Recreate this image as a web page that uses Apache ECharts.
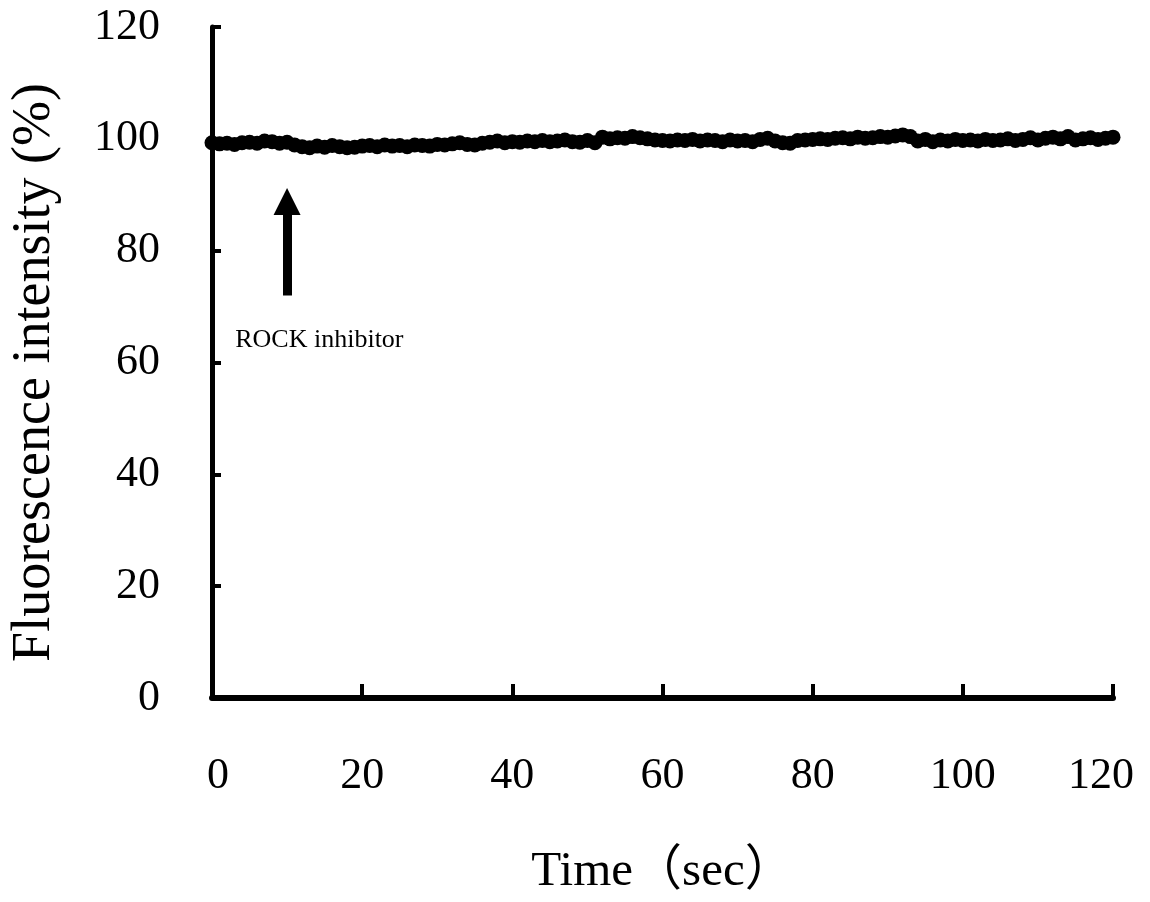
<!DOCTYPE html>
<html>
<head>
<meta charset="utf-8">
<script src="https://cdn.jsdelivr.net/npm/echarts@6/dist/echarts.min.js"></script>
<style>html,body{margin:0;padding:0;background:#fff}#c{width:1150px;height:902px}</style>
</head>
<body>
<div id="c"></div>
<script>
const timeSec = [0,1,2,3,4,5,6,7,8,9,10,11,12,13,14,15,16,17,18,19,20,21,22,23,24,25,26,27,28,29,30,31,32,33,34,35,36,37,38,39,40,41,42,43,44,45,46,47,48,49,50,51,52,53,54,55,56,57,58,59,60,61,62,63,64,65,66,67,68,69,70,71,72,73,74,75,76,77,78,79,80,81,82,83,84,85,86,87,88,89,90,91,92,93,94,95,96,97,98,99,100,101,102,103,104,105,106,107,108,109,110,111,112,113,114,115,116,117,118,119,120];
const intensity = [
  99.3, 99.1, 99.2, 99.0, 99.3, 99.4, 99.2, 99.6, 99.5, 99.2, 99.4,
  98.9, 98.6, 98.4, 98.7, 98.5, 98.8, 98.6, 98.4, 98.5, 98.7,
  98.8, 98.6, 98.9, 98.7, 98.8, 98.6, 98.9, 98.8, 98.7, 99.0,
  98.9, 99.1, 99.3, 99.0, 98.9, 99.2, 99.4, 99.6, 99.3, 99.5,
  99.4, 99.6, 99.5, 99.7, 99.5, 99.6, 99.8, 99.5, 99.4, 99.7,
  99.3, 100.3, 100.0, 100.2, 100.1, 100.4, 100.2, 100.0, 99.8, 99.7,
  99.6, 99.8, 99.7, 99.9, 99.6, 99.8, 99.7, 99.5, 99.8, 99.6,
  99.7, 99.5, 99.9, 100.1, 99.6, 99.3, 99.2, 99.7, 99.8, 99.9,
  100.0, 99.9, 100.1, 100.2, 100.0, 100.3, 100.1, 100.2, 100.4, 100.3,
  100.5, 100.7, 100.4, 99.6, 99.9, 99.5, 99.8, 99.6, 99.9, 99.7,
  99.8, 99.6, 99.9, 99.7, 99.8, 100.0, 99.7, 99.9, 100.2, 99.8,
  100.1, 100.3, 100.0, 100.4, 99.8, 100.0, 100.2, 99.9, 100.1, 100.3
];
const xTicks = [0, 20, 40, 60, 80, 100, 120];
const yTicks = [0, 20, 40, 60, 80, 100, 120];
const arrowFrom = [10, 72];
const arrowTo = [10, 88.8];
const annotText = 'ROCK inhibitor';
const annotAt = [14.3, 64];

const serif = '"Liberation Serif", "Times New Roman", "Noto Sans CJK JP", serif';
const xMin = xTicks[0], xMax = xTicks[xTicks.length - 1];
const chart = echarts.init(document.getElementById('c'), null, {renderer: 'canvas'});
chart.setOption({
  animation: false,
  backgroundColor: '#fff',
  grid: {left: 212, right: 37, top: 27, bottom: 198, containLabel: false},
  xAxis: {
    type: 'value', min: xMin, max: xMax, interval: 20,
    name: 'Time（sec）', nameLocation: 'middle', nameGap: 150,
    nameTextStyle: {fontFamily: serif, fontSize: 49, color: '#000'},
    axisLine: {show: true, onZero: false, lineStyle: {color: '#000', width: 6}},
    axisTick: {show: true, inside: true, length: 14, lineStyle: {color: '#000', width: 4}},
    axisLabel: {
      fontFamily: serif, fontSize: 44, color: '#000', margin: 56,
      formatter: v => v === xMin ? '{first|' + v + '}' : (v === xMax ? '{last|' + v + '}' : '{n|' + v + '}'),
      rich: {
        first: {fontFamily: serif, fontSize: 44, color: '#000', padding: [0, 0, 0, 12]},
        last: {fontFamily: serif, fontSize: 44, color: '#000', padding: [0, 24, 0, 0]},
        n: {fontFamily: serif, fontSize: 44, color: '#000'}
      }
    },
    splitLine: {show: false}
  },
  yAxis: {
    type: 'value', min: yTicks[0], max: yTicks[yTicks.length - 1], interval: 20,
    name: 'Fluorescence intensity (%)', nameLocation: 'middle', nameGap: 150,
    nameTextStyle: {fontFamily: serif, fontSize: 54, color: '#000', padding: [0, 20, 0, 0]},
    axisLine: {show: true, onZero: false, lineStyle: {color: '#000', width: 5}},
    axisTick: {show: true, inside: true, length: 9, lineStyle: {color: '#000', width: 4}},
    axisLabel: {fontFamily: serif, fontSize: 44, color: '#000', margin: 52},
    splitLine: {show: false}
  },
  series: [
    {
      type: 'line',
      data: timeSec.map((t, i) => [t, intensity[i]]),
      symbol: 'circle', symbolSize: 15, showSymbol: true,
      lineStyle: {color: '#000', width: 10},
      itemStyle: {color: '#000'},
      z: 3
    },
    {
      type: 'scatter', data: [],
      markLine: {
        silent: true, animation: false,
        symbol: ['none', 'triangle'], symbolSize: [27, 27],
        lineStyle: {color: '#000', width: 9, type: 'solid'},
        itemStyle: {color: '#000'},
        label: {show: false},
        data: [[{coord: arrowFrom}, {coord: arrowTo}]]
      },
      markPoint: {
        silent: true, animation: false,
        symbol: 'circle', symbolSize: 0,
        label: {show: true, position: 'inside', formatter: annotText, fontFamily: serif, fontSize: 26, color: '#000'},
        data: [{coord: annotAt}]
      }
    }
  ]
});
</script>
</body>
</html>
